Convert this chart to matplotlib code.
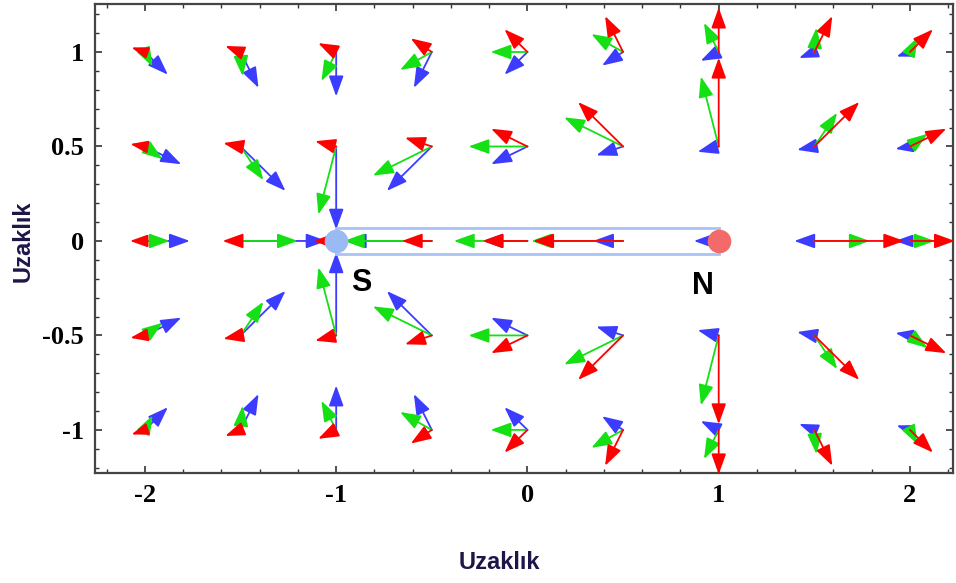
import numpy as np
import matplotlib
matplotlib.use("Agg")
import matplotlib.pyplot as plt
from matplotlib.patches import FancyArrowPatch, Rectangle

nan = np.nan

# grid of arrow tails
x_vals = [-2, -1.5, -1, -0.5, 0, 0.5, 1, 1.5, 2]
y_vals = [1, 0.5, 0, -0.5, -1]

# red arrows (N pole), rows follow y_vals
red_u = [
    [-0.07, -0.08, -0.094, -0.11, -0.12, -0.094, 0.0, 0.094, 0.12],
    [-0.076, -0.09, -0.11, -0.14, -0.19, -0.235, 0.0, 0.235, 0.19],
    [-0.078, -0.094, -0.12, -0.157, -0.235, -0.47, nan, 0.47, 0.235],
    [-0.076, -0.09, -0.11, -0.14, -0.19, -0.235, 0.0, 0.235, 0.19],
    [-0.07, -0.08, -0.094, -0.11, -0.12, -0.094, 0.0, 0.094, 0.12],
]
red_v = [
    [0.024, 0.032, 0.047, 0.072, 0.12, 0.19, 0.235, 0.19, 0.12],
    [0.013, 0.018, 0.028, 0.047, 0.094, 0.235, 0.47, 0.235, 0.094],
    [0, 0, 0, 0, 0, 0, nan, 0, 0],
    [-0.013, -0.018, -0.028, -0.047, -0.094, -0.235, -0.47, -0.235, -0.094],
    [-0.024, -0.032, -0.047, -0.072, -0.12, -0.19, -0.235, -0.19, -0.12],
]

# blue arrows (S pole)
blue_u = [
    [0.12, 0.094, 0.0, -0.094, -0.12, -0.11, -0.094, -0.08, -0.07],
    [0.19, 0.235, 0.0, -0.235, -0.19, -0.14, -0.11, -0.09, -0.076],
    [0.235, 0.45, nan, -0.45, -0.235, -0.157, -0.13, -0.105, -0.078],
    [0.19, 0.235, 0.0, -0.235, -0.19, -0.14, -0.11, -0.09, -0.076],
    [0.12, 0.094, 0.0, -0.094, -0.12, -0.11, -0.094, -0.08, -0.07],
]
blue_v = [
    [-0.12, -0.19, -0.235, -0.19, -0.12, -0.072, -0.047, -0.032, -0.024],
    [-0.094, -0.235, -0.44, -0.235, -0.094, -0.047, -0.028, -0.018, -0.013],
    [0, 0, nan, 0, 0, 0, 0, 0, 0],
    [0.094, 0.235, 0.44, 0.235, 0.094, 0.047, 0.028, 0.018, 0.013],
    [0.12, 0.19, 0.235, 0.19, 0.12, 0.072, 0.047, 0.032, 0.024],
]

# green arrows (total)
green_u = [
    [0.04, 0.011, -0.077, -0.166, -0.193, -0.166, -0.077, 0.011, 0.04],
    [0.092, 0.119, -0.093, -0.308, -0.308, -0.308, -0.093, 0.119, 0.092],
    [0.13, 0.30, nan, -0.46, -0.385, -0.48, nan, 0.29, 0.13],
    [0.092, 0.119, -0.093, -0.308, -0.308, -0.308, -0.093, 0.119, 0.092],
    [0.04, 0.011, -0.077, -0.166, -0.193, -0.166, -0.077, 0.011, 0.04],
]
green_v = [
    [-0.077, -0.128, -0.154, -0.095, 0.0, 0.095, 0.154, 0.128, 0.077],
    [-0.067, -0.178, -0.36, -0.154, 0.0, 0.154, 0.37, 0.178, 0.067],
    [0, 0, nan, 0, 0, 0, nan, 0, 0],
    [0.067, 0.178, 0.36, 0.154, 0.0, -0.154, -0.37, -0.178, -0.067],
    [0.077, 0.128, 0.154, 0.095, 0.0, -0.095, -0.154, -0.128, -0.077],
]

x_ticks = [-2, -1, 0, 1, 2]
y_ticks = [-1, -0.5, 0, 0.5, 1]
y_ticklabels = ["-1", "-0.5", "0", "0.5", "1"]

fig = plt.figure(figsize=(9.56, 5.83), dpi=100)
ax = fig.add_axes([95 / 956, 110 / 583, 858 / 956, 469 / 583])


def draw_field(us, vs, color, z):
    for i, y in enumerate(y_vals):
        for j, x in enumerate(x_vals):
            u, v = us[i][j], vs[i][j]
            if np.isnan(u) or np.isnan(v):
                continue
            # head shrinks a bit on very short arrows, like the original
            L = np.hypot(u, v) * 137.0  # rough length in points
            hl = min(1.25, 0.1 * L)
            hw = min(0.45, 0.036 * L)
            arr = FancyArrowPatch((x, y), (x + u, y + v),
                                  arrowstyle="-|>,head_length=%.2f,head_width=%.2f" % (hl, hw),
                                  mutation_scale=10, color=color, lw=1.3,
                                  shrinkA=0, shrinkB=0, zorder=z)
            ax.add_patch(arr)


draw_field(blue_u, blue_v, "#3c3cff", 2)
draw_field(green_u, green_v, "#14e014", 3)
draw_field(red_u, red_v, "#ff0000", 4)

# magnet
ax.add_patch(Rectangle((-1, -0.069), 2, 0.138, fill=False,
                       edgecolor="#a9c3f5", lw=2, zorder=5))
ax.plot([-1], [0], "o", ms=17, color="#9bb9f3", mec="none", zorder=6)
ax.plot([1], [0], "o", ms=17, color="#f26a6a", mec="none", zorder=6)
ax.text(-0.87, -0.22, "S", fontsize=22, family="Liberation Sans",
        fontweight="bold", ha="center", va="center", zorder=7)
ax.text(0.92, -0.24, "N", fontsize=22, family="Liberation Sans",
        fontweight="bold", ha="center", va="center", zorder=7)

ax.set_xlim(-2.261, 2.225)
ax.set_ylim(-1.228, 1.254)

ax.set_xticks(x_ticks)
ax.set_xticklabels([str(t) for t in x_ticks])
ax.set_yticks(y_ticks)
ax.set_yticklabels(y_ticklabels)
ax.set_xticks(np.arange(-2.2, 2.21, 0.2), minor=True)
ax.set_yticks(np.arange(-1.2, 1.21, 0.1), minor=True)
ax.tick_params(which="both", direction="in", top=True, right=True,
               color="#333333")
ax.tick_params(which="major", length=5, width=1.2, pad=8)
ax.tick_params(which="minor", length=3, width=1.0)
for lab in ax.get_xticklabels() + ax.get_yticklabels():
    lab.set_fontfamily("Liberation Serif")
    lab.set_fontweight("bold")
    lab.set_fontsize(19)
for sp in ax.spines.values():
    sp.set_color("#444444")
    sp.set_linewidth(1.6)

fig.text(0.522, 0.036, "Uzaklık", fontsize=17, fontweight="bold",
         family="Liberation Sans", color="#1d1648", ha="center", va="center")
fig.text(0.024, 0.587, "Uzaklık", fontsize=17, fontweight="bold",
         family="Liberation Sans", color="#1d1648", ha="center", va="center",
         rotation=90)

fig.savefig("out.png", dpi=100)
